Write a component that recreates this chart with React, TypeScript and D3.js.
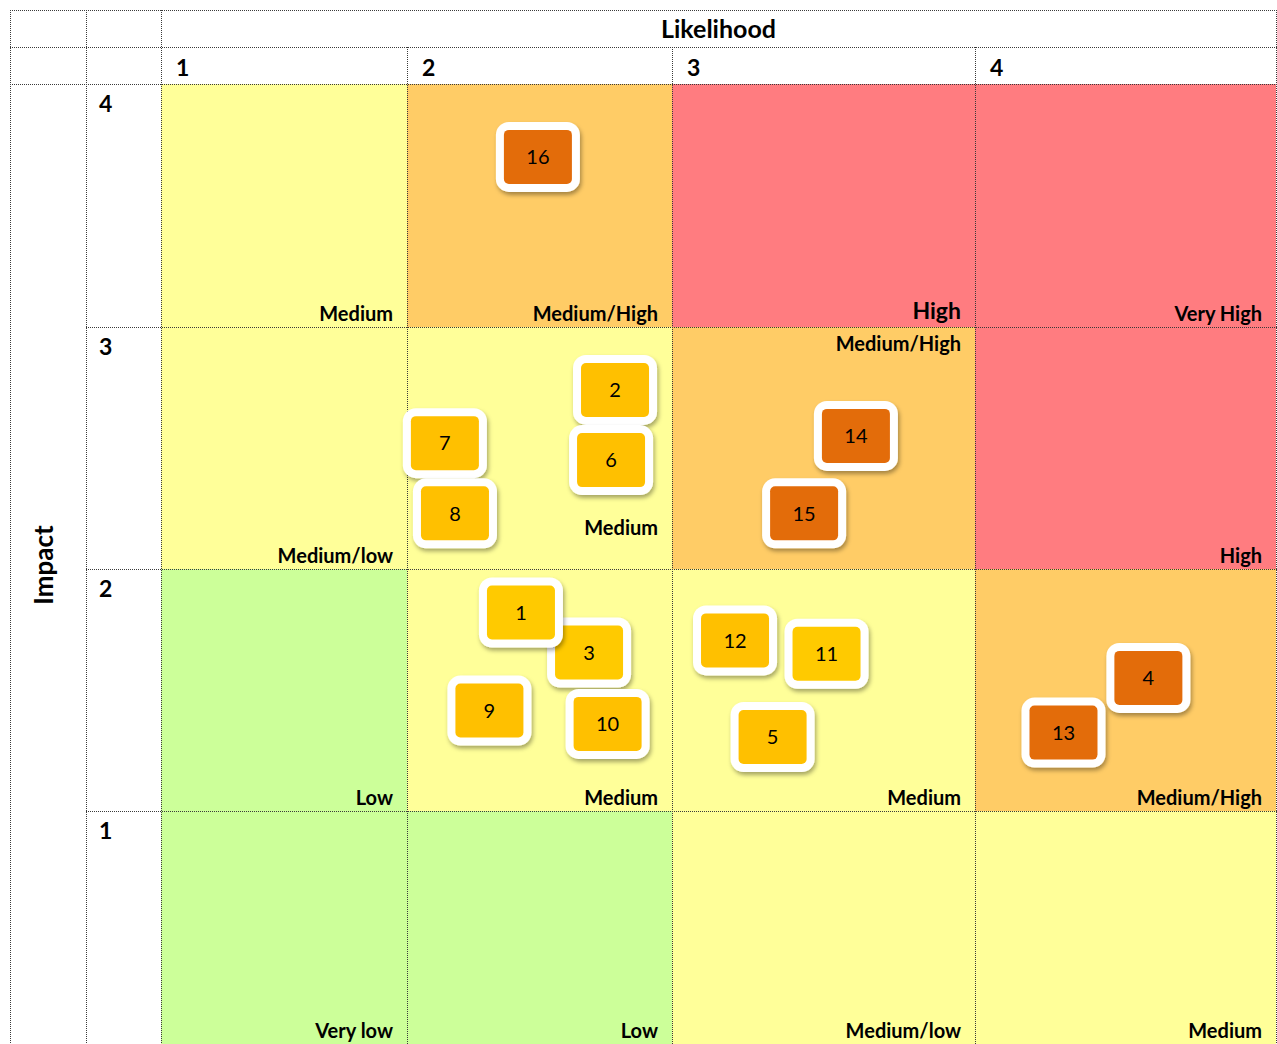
import React from "react";
import * as d3 from "d3";

// ---- data ----
const likelihoodLevels = [1, 2, 3, 4];
const impactLevels = [4, 3, 2, 1];
const xTitle = "Likelihood";
const yTitle = "Impact";

// cell zones: likelihood, impact, zone, label
const cellLikelihood = [1, 2, 3, 4, 1, 2, 3, 4, 1, 2, 3, 4, 1, 2, 3, 4];
const cellImpact = [4, 4, 4, 4, 3, 3, 3, 3, 2, 2, 2, 2, 1, 1, 1, 1];
const cellZone = [
  "yellow", "amber", "red", "red",
  "yellow", "yellow", "amber", "red",
  "green", "yellow", "yellow", "amber",
  "green", "green", "yellow", "yellow",
];
const cellLabel = [
  "Medium", "Medium/High", "High", "Very High",
  "Medium/low", "Medium", "Medium/High", "High",
  "Low", "Medium", "Medium", "Medium/High",
  "Very low", "Low", "Medium/low", "Medium",
];

// risks (draw order: later on top)
const riskIds = ["16", "2", "6", "7", "8", "14", "15", "3", "1", "9", "10", "12", "11", "5", "4", "13"];
const riskLikelihood = [2.494, 2.785, 2.77, 2.143, 2.181, 3.607, 3.436, 2.687, 2.43, 2.311, 2.757, 3.208, 3.51, 3.332, 4.576, 4.294];
const riskImpact = [4.7, 3.74, 3.45, 3.52, 3.23, 3.55, 3.23, 2.655, 2.82, 2.415, 2.36, 2.705, 2.65, 2.306, 2.55, 2.324];
const riskSeverity = ["high", "mid", "mid", "mid", "mid", "high", "high", "mid2", "mid2", "mid", "mid", "mid", "mid2", "mid", "high", "high"];

// ---- styles ----
const zoneColor: Record<string, string> = {
  green: "#CCFF99",
  yellow: "#FFFF99",
  amber: "#FFCC66",
  red: "#FF7C80",
};
const badgeColor: Record<string, string> = {
  high: "#E36C0A",
  mid: "#FFC000",
  mid2: "#FFCA00",
};
const FONT = "Lato, 'Open Sans', sans-serif";

export default function App() {
  const W = 1277;
  const H = 1044;
  const left = 10;
  const col1 = 86;
  const top = 10;
  const head1 = 47;
  const head2 = 84;

  const x = d3.scaleLinear().domain([1, 2, 3, 4, 5]).range([161, 407, 672, 975, 1276]);
  const y = d3.scaleLinear().domain([1, 2, 3, 4, 5]).range([1048, 811, 569, 327, 84]);
  const right = x(5);
  const bottom = H + 10;

  const bw = 84, bh = 70, border = 8;

  const dotted = { stroke: "#3a3a3a", strokeWidth: 1, strokeDasharray: "1 1", shapeRendering: "crispEdges" as const };
  const p = (v: number) => Math.round(v) + 0.5;

  const hLines: [number, number, number][] = [
    [top, left, right],
    [head1, left, right],
    [head2, left, right],
    ...impactLevels.slice(0, 3).map((i) => [y(i), col1, right] as [number, number, number]),
  ];
  const vLines: [number, number, number][] = [
    [left, top, bottom],
    [col1, top, bottom],
    [x(1), top, bottom],
    ...likelihoodLevels.slice(1).map((l) => [x(l), head1, bottom] as [number, number, number]),
    [right, top, bottom],
  ];

  return (
    <svg width={W} height={H} style={{ position: "absolute", left: 0, top: 0, background: "#fff" }} fontFamily={FONT}>
      <defs>
        <filter id="sh" x="-30%" y="-30%" width="160%" height="170%">
          <feDropShadow dx="1.5" dy="3" stdDeviation="2.2" floodColor="#000" floodOpacity="0.35" />
        </filter>
      </defs>
      <rect width={W} height={H} fill="#fff" />

      {/* cells */}
      {cellLikelihood.map((l, k) => {
        const i = cellImpact[k];
        const x0 = x(l), x1 = x(l + 1), y0 = y(i + 1), y1 = y(i);
        return <rect key={"c" + k} x={x0} y={y0} width={x1 - x0} height={y1 - y0} fill={zoneColor[cellZone[k]]} />;
      })}

      {/* grid lines */}
      {hLines.map(([yy, a, b], k) => (
        <line key={"h" + k} x1={a} x2={b + 1} y1={p(yy)} y2={p(yy)} {...dotted} />
      ))}
      {vLines.map(([xx, a, b], k) => (
        <line key={"v" + k} x1={p(xx)} x2={p(xx)} y1={a} y2={b} {...dotted} />
      ))}

      {/* cell labels */}
      {cellLikelihood.map((l, k) => {
        const i = cellImpact[k];
        const xr = x(l + 1) - 14;
        let yy = y(i) - 6;
        let size = 20;
        if (i === 1) yy = H - 6;
        if (l === 3 && i === 3) yy = y(i + 1) + 24;
        if (l === 2 && i === 3) yy = y(i) - 34;
        if (l === 3 && i === 4) { size = 23; yy = y(i) - 8; }
        return (
          <text key={"t" + k} x={xr} y={yy} textAnchor="end" fontWeight="bold" fontSize={size} fill="#000">
            {cellLabel[k]}
          </text>
        );
      })}

      {/* headers */}
      <text x={(x(1) + right) / 2} y={38} textAnchor="middle" fontWeight="bold" fontSize={25} fill="#000">
        {xTitle}
      </text>
      {likelihoodLevels.map((l) => (
        <text key={"xl" + l} x={x(l) + 15} y={76} fontWeight="bold" fontSize={23} fill="#000">
          {l}
        </text>
      ))}
      {impactLevels.map((i) => (
        <text key={"yl" + i} x={col1 + 13} y={y(i + 1) + 28} fontWeight="bold" fontSize={23} fill="#000">
          {i}
        </text>
      ))}
      <text
        transform={`translate(53,${565}) rotate(-90)`}
        textAnchor="middle"
        fontWeight="bold"
        fontSize={26}
        fill="#000"
      >
        {yTitle}
      </text>

      {/* risk badges */}
      {riskIds.map((id, k) => {
        const cx = x(riskLikelihood[k]);
        const cy = y(riskImpact[k]);
        return (
          <g key={"r" + id} transform={`translate(${cx},${cy})`}>
            <rect x={-bw / 2} y={-bh / 2} width={bw} height={bh} rx={13} fill="#fff" filter="url(#sh)" />
            <rect
              x={-bw / 2 + border}
              y={-bh / 2 + border}
              width={bw - 2 * border}
              height={bh - 2 * border}
              rx={5}
              fill={badgeColor[riskSeverity[k]]}
            />
            <text textAnchor="middle" dy="0.36em" fontSize={20} fill="#000">
              {id}
            </text>
          </g>
        );
      })}
    </svg>
  );
}
